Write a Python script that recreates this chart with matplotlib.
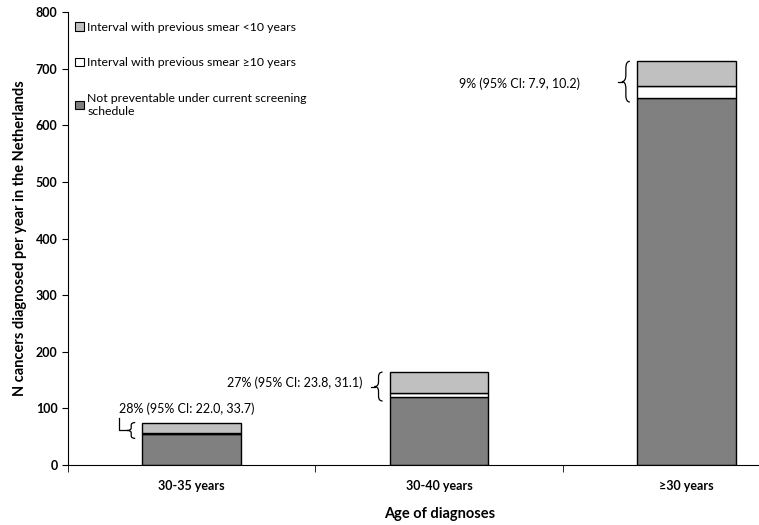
import numpy as np
import matplotlib
matplotlib.use('Agg')
import matplotlib.pyplot as plt
from matplotlib.path import Path
from matplotlib.patches import PathPatch, Patch

plt.rcParams['font.family'] = ['Lato', 'DejaVu Sans']

categories = ['30-35 years', '30-40 years', '\u226530 years']
not_preventable = [54, 120, 648]
interval_ge10 = [2, 8, 22]
interval_lt10 = [19, 36, 43]
ci_labels = ['28% (95% CI: 22.0, 33.7)',
             '27% (95% CI: 23.8, 31.1)',
             '9% (95% CI: 7.9, 10.2)']

fig = plt.figure(figsize=(7.59, 5.25), dpi=100)
ax = fig.add_axes([68/759, 60/525, 742/759, 453/525])

x = np.arange(len(categories))
w = 0.4
ec = dict(edgecolor='black', linewidth=1.0)
b0 = np.array(not_preventable)
b1 = b0 + np.array(interval_ge10)
tot = b1 + np.array(interval_lt10)
ax.bar(x, not_preventable, w, color='#808080', **ec)
ax.bar(x, interval_ge10, w, bottom=b0, color='white', **ec)
ax.bar(x, interval_lt10, w, bottom=b1, color='#c0c0c0', **ec)

ax.set_xlim(-0.5, 2.5)
ax.set_ylim(0, 800)
ax.set_yticks(range(0, 801, 100))
ax.set_xticks(x)
ax.set_xticklabels(categories, fontweight='bold', fontsize=9)
ax.set_xticks([-0.5, 0.5, 1.5, 2.5], minor=True)
ax.tick_params(axis='x', which='major', length=0, pad=11)
ax.tick_params(axis='x', which='minor', length=5, direction='out')
ax.tick_params(axis='y', length=4, direction='out', labelsize=9)
for t in ax.get_yticklabels():
    t.set_fontweight('bold')
for s in ['top', 'right']:
    ax.spines[s].set_visible(False)
ax.set_ylabel('N cancers diagnosed per year in the Netherlands', fontweight='bold', fontsize=10.5, labelpad=6)
ax.set_xlabel('Age of diagnoses', fontweight='bold', fontsize=10.5)
ax.xaxis.set_label_coords(372/742, -42/453)


def brace(ax, xr, y0, y1, bw):
    # left facing curly brace, right edge at xr
    xm = xr - bw / 2
    xt = xr - bw
    ym = (y0 + y1) / 2
    r = (y1 - y0) / 6
    verts = [(xr, y1), (xm, y1), (xm, y1 - r), (xm, ym + r), (xm, ym), (xt, ym),
             (xm, ym), (xm, ym - r), (xm, y0 + r), (xm, y0), (xr, y0)]
    codes = [Path.MOVETO, Path.CURVE3, Path.CURVE3, Path.LINETO, Path.CURVE3, Path.CURVE3,
             Path.CURVE3, Path.CURVE3, Path.LINETO, Path.CURVE3, Path.CURVE3]
    ax.add_patch(PathPatch(Path(verts, codes), fill=False, lw=0.9, clip_on=False))
    return xt, ym


px = 1 / 247.3   # one pixel in category units
pad = 7
for i in range(3):
    left = x[i] - w / 2
    xt, ym = brace(ax, left - 7 * px, b0[i] - pad, tot[i], 8 * px)
    if i == 0:
        ax.plot([xt, xt - 8 * px, xt - 8 * px], [ym, ym, ym + 22], color='black', lw=0.9)
        ax.annotate(ci_labels[i], (xt, ym), xytext=(-6, 15.5), textcoords='offset points',
                    ha='left', va='center', fontsize=9)
    else:
        ax.plot([xt, xt - 4 * px], [ym, ym], color='black', lw=0.9)
        off = (-8.5, 2.5) if i == 1 else (-30, -1.5)
        ax.annotate(ci_labels[i], (xt, ym), xytext=off, textcoords='offset points',
                    ha='right', va='center', fontsize=9)

handles = [Patch(facecolor='#c0c0c0', edgecolor='black', lw=0.8),
           Patch(facecolor='white', edgecolor='black', lw=0.8),
           Patch(facecolor='#808080', edgecolor='black', lw=0.8)]
labels = ['Interval with previous smear <10 years',
          'Interval with previous smear \u226510 years',
          'Not preventable under current screening\nschedule']
fig.legend(handles, labels, loc='upper left', bbox_to_anchor=(75/759, 1 - 22/525),
           frameon=False, fontsize=8.8, handlelength=0.7, handleheight=0.7,
           handletextpad=0.3, labelspacing=2.0, borderaxespad=0, borderpad=0)

fig.savefig('out.png', dpi=100)
